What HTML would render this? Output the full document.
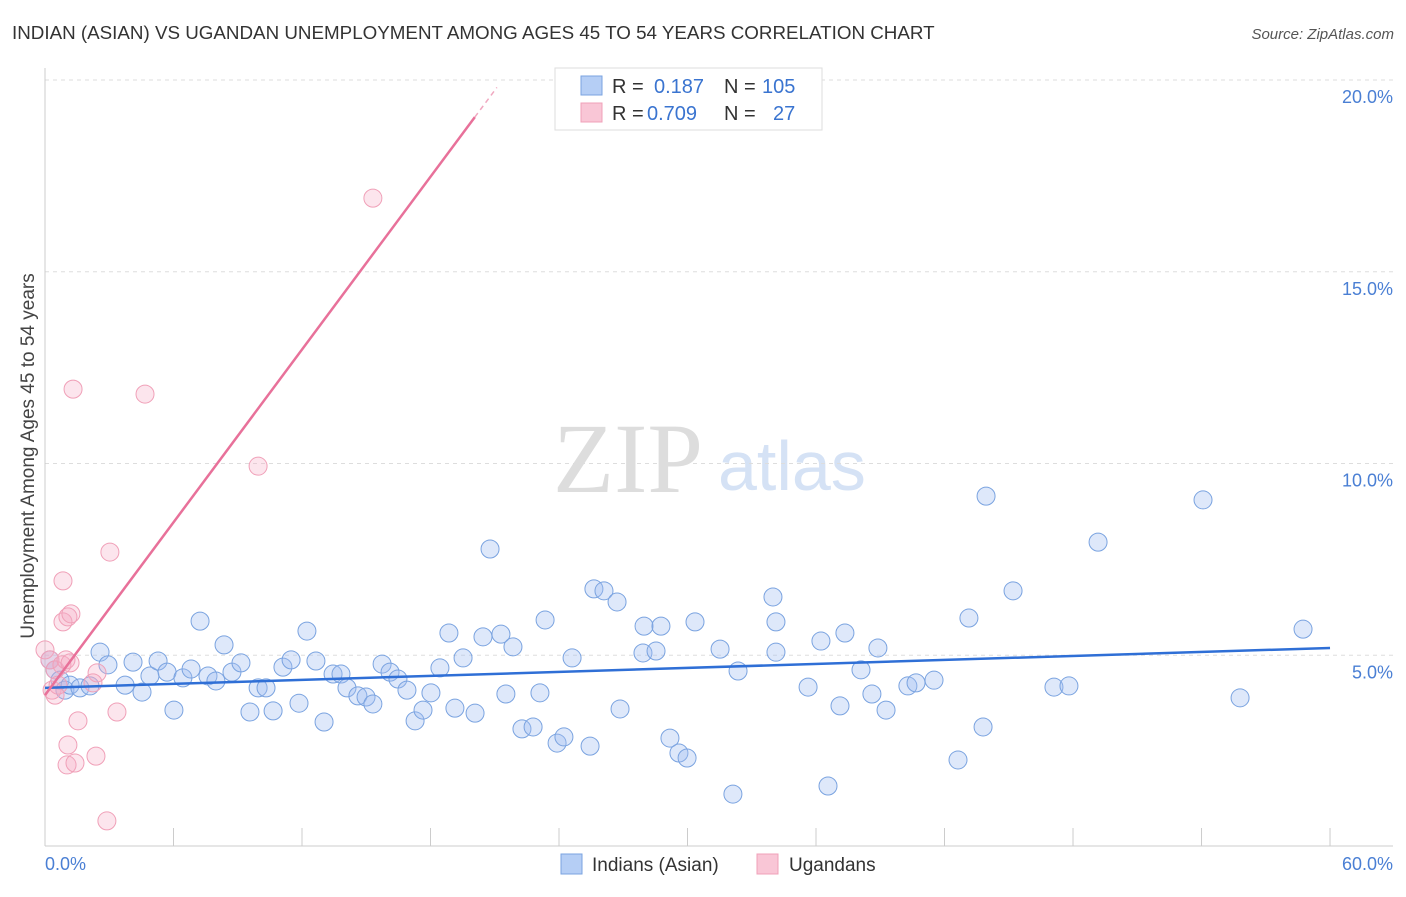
<!DOCTYPE html>
<html><head><meta charset="utf-8"><style>
body{margin:0;background:#fff;font-family:"Liberation Sans",sans-serif}
svg text{font-family:"Liberation Sans",sans-serif}
</style></head><body>
<svg id="chart" width="1406" height="892" xmlns="http://www.w3.org/2000/svg">
<text x="12" y="39" font-size="18.8" fill="#333">INDIAN (ASIAN) VS UGANDAN UNEMPLOYMENT AMONG AGES 45 TO 54 YEARS CORRELATION CHART</text>
<text x="1394" y="39" font-size="15" fill="#555" text-anchor="end" font-style="italic">Source: ZipAtlas.com</text>
<g>
<text x="553" y="492" font-size="100" fill="#ddd" style="font-family:'Liberation Serif',serif">ZIP</text>
<text x="718" y="490" font-size="70" fill="#d5e2f5">atlas</text>
</g>
<g id="grid"></g>
<g id="axes"></g>
<g id="pts"></g>
<g id="lines"></g>
<text transform="translate(34,456) rotate(-90)" font-size="19" fill="#444" text-anchor="middle">Unemployment Among Ages 45 to 54 years</text>
<g>
<rect x="555" y="68" width="267" height="62" fill="#fff" stroke="#ddd"/>
<rect x="581" y="76" width="21" height="19" fill="#b5cef5" stroke="#7aa3e0"/>
<rect x="581" y="103" width="21" height="19" fill="#f9c6d6" stroke="#f0a0b8"/>
<text x="612" y="93" font-size="20" fill="#333">R =</text>
<text x="654" y="93" font-size="20" fill="#3a74d0">0.187</text>
<text x="724" y="93" font-size="20" fill="#333">N =</text>
<text x="762" y="93" font-size="20" fill="#3a74d0">105</text>
<text x="612" y="120" font-size="20" fill="#333">R =</text>
<text x="647" y="120" font-size="20" fill="#3a74d0">0.709</text>
<text x="724" y="120" font-size="20" fill="#333">N =</text>
<text x="773" y="120" font-size="20" fill="#3a74d0">27</text>
</g>
<g>
<rect x="561" y="854" width="21" height="20" fill="#b5cef5" stroke="#7aa3e0"/>
<text x="592" y="871" font-size="19" fill="#333">Indians (Asian)</text>
<rect x="757" y="854" width="21" height="20" fill="#f9c6d6" stroke="#f0a0b8"/>
<text x="789" y="871" font-size="19" fill="#333">Ugandans</text>
</g>
</svg>
<script>
const yTicks=[5,10,15,20];
const yTickLabels=["5.0%","10.0%","15.0%","20.0%"];
const xTicks=[0,6,12,18,24,30,36,42,48,54,60];
const indianX=[0.23,0.47,0.70,0.93,1.17,1.63,2.10,2.57,2.94,3.74,4.11,4.53,4.90,5.28,5.70,6.02,6.44,6.82,7.24,7.61,7.98,8.36,8.73,9.15,9.57,9.95,10.32,10.65,11.11,11.49,11.86,12.23,12.65,13.03,13.45,13.82,14.10,14.61,14.99,15.31,15.74,16.11,16.48,16.90,17.28,17.65,18.02,18.44,18.86,19.14,19.52,20.08,20.45,20.78,21.29,21.52,21.85,22.27,22.79,23.11,23.35,23.91,24.23,24.61,25.45,25.63,26.10,26.71,26.85,27.97,27.92,28.53,28.76,29.18,29.60,29.98,30.35,31.52,32.12,32.36,33.99,34.13,34.13,35.63,36.23,37.12,37.35,38.10,38.61,38.89,39.27,40.29,40.67,41.51,42.63,43.14,43.80,43.94,45.20,47.11,47.81,49.17,54.07,55.80,58.74,36.56];
const indianY=[4.88,4.62,4.35,4.09,4.22,4.15,4.20,5.08,4.75,4.22,4.82,4.04,4.46,4.85,4.56,3.57,4.41,4.64,5.89,4.46,4.33,5.27,4.56,4.80,3.52,4.15,4.15,3.55,4.69,4.88,3.75,5.63,4.85,3.26,4.51,4.51,4.15,3.94,3.91,3.73,4.77,4.56,4.38,4.09,3.29,3.57,4.02,4.67,5.58,3.62,4.93,3.49,5.48,7.77,5.55,3.99,5.22,3.08,3.13,4.02,5.92,2.71,2.87,4.93,2.63,6.73,6.68,6.39,3.60,5.76,5.06,5.11,5.76,2.84,2.45,2.32,5.87,5.16,1.38,4.59,6.52,5.87,5.08,4.17,5.37,3.68,5.58,4.62,3.99,5.19,3.57,4.20,4.28,4.35,2.27,5.97,3.13,9.15,6.68,4.17,4.20,7.95,9.05,3.89,5.68,1.59];
const ugandanX=[0,0.23,0.47,0.33,0.61,0.79,0.98,1.17,0.84,1.07,1.21,0.84,1.31,1.54,1.07,1.03,1.40,2.38,2.43,2.24,3.03,3.36,4.67,9.95,15.31,2.89,0.47];
const ugandanY=[5.14,4.88,4.62,4.09,4.22,4.75,4.88,4.80,5.87,6.00,6.08,6.94,11.94,3.29,2.66,2.14,2.19,2.37,4.54,4.28,7.69,3.52,11.81,9.93,16.92,0.68,3.96];
const indianTrend=[4.15,5.19]; // at x=0 and x=60
const ugandanTrend=[3.96,0.751]; // intercept, slope
const NS="http://www.w3.org/2000/svg";
const sx=v=>45+v*21.417, sy=v=>847-v*38.35;
function mk(tag,attrs,parent){const e=document.createElementNS(NS,tag);for(const k in attrs)e.setAttribute(k,attrs[k]);parent.appendChild(e);return e;}
const grid=document.getElementById('grid'),axes=document.getElementById('axes'),pts=document.getElementById('pts'),lines=document.getElementById('lines');
yTicks.forEach((t,i)=>{
 const l=mk('line',{x1:45,x2:1393,y1:sy(t),y2:sy(t),stroke:'#ddd','stroke-dasharray':'4,4'},grid);
 
 
 const tx=mk('text',{x:1393,y:sy(t)+23,'font-size':18,fill:'#4a7fd4','text-anchor':'end'},grid);
 tx.textContent=yTickLabels[i];
 
 
});
let a=mk('line',{x1:45,x2:45,y1:68,y2:846,stroke:'#ccc'},axes);


a=mk('line',{x1:45,x2:1393,y1:846,y2:846,stroke:'#ccc'},axes);


xTicks.forEach(t=>{
 const l=mk('line',{x1:sx(t),x2:sx(t),y1:828,y2:846,stroke:'#ccc'},axes);
 
 
});
let xl=mk('text',{x:45,y:870,'font-size':18,fill:'#4a7fd4'},axes);xl.textContent='0.0%';


xl=mk('text',{x:1393,y:870,'font-size':18,fill:'#4a7fd4','text-anchor':'end'},axes);xl.textContent='60.0%';


indianX.forEach((x,i)=>{
 const c=mk('circle',{cx:sx(x),cy:sy(indianY[i]),r:9,fill:'rgba(160,190,240,0.35)',stroke:'#7aa3e0','stroke-width':1},pts);
 
 
});
ugandanX.forEach((x,i)=>{
 const c=mk('circle',{cx:sx(x),cy:sy(ugandanY[i]),r:9,fill:'rgba(245,170,195,0.3)',stroke:'#f0a0b8','stroke-width':1},pts);
 
 
});
let tl=mk('line',{x1:sx(0),y1:sy(indianTrend[0]),x2:sx(60),y2:sy(indianTrend[1]),stroke:'#2f6fd6','stroke-width':2.5},lines);


const ux=20.07,ux2=21.1;
tl=mk('line',{x1:sx(0),y1:sy(ugandanTrend[0]),x2:sx(ux),y2:sy(ugandanTrend[0]+ugandanTrend[1]*ux),stroke:'#e8719a','stroke-width':2.5},lines);


tl=mk('line',{x1:sx(ux),y1:sy(ugandanTrend[0]+ugandanTrend[1]*ux),x2:sx(ux2),y2:sy(ugandanTrend[0]+ugandanTrend[1]*ux2),stroke:'#f0a8c0','stroke-width':1.5,'stroke-dasharray':'5,4'},lines);


</script>
</body></html>
